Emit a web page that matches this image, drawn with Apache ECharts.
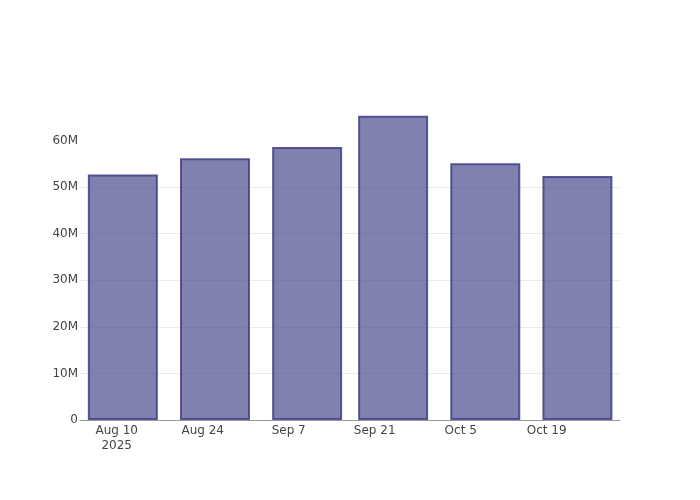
<!DOCTYPE html>
<html>
<head>
<meta charset="utf-8">
<script src="https://cdn.jsdelivr.net/npm/echarts@6/dist/echarts.min.js"></script>
<style>html,body{margin:0;padding:0;background:#fff}#c{width:700px;height:500px}</style>
</head>
<body>
<div id="c"></div>
<script>
const dates = ["2025-08-11", "2025-08-26", "2025-09-10", "2025-09-24", "2025-10-09", "2025-10-24"];
const values = [52.7e6, 56.2e6, 58.6e6, 65.3e6, 55.1e6, 52.4e6];
const xTickDates = ["2025-08-10", "2025-08-24", "2025-09-07", "2025-09-21", "2025-10-05", "2025-10-19"];
const yTicks = [0, 10e6, 20e6, 30e6, 40e6, 50e6, 60e6];
const xRange = ["2025-08-04T00:37:00", "2025-10-30T22:20:00"];
const yMax = 68.7e6;

const MONTHS = ["Jan","Feb","Mar","Apr","May","Jun","Jul","Aug","Sep","Oct","Nov","Dec"];
const ts = s => new Date(s.length === 10 ? s + "T00:00:00" : s).getTime();
const firstTick = ts(xTickDates[0]);

const chart = echarts.init(document.getElementById('c'), null, {renderer: 'canvas'});
chart.setOption({
  animation: false,
  backgroundColor: '#fff',
  textStyle: {fontFamily: 'DejaVu Sans'},
  grid: {left: 80, right: 80, top: 100, bottom: 80, containLabel: false},
  xAxis: {
    type: 'value',
    min: ts(xRange[0]),
    max: ts(xRange[1]),
    axisLine: {show: true, onZero: false, lineStyle: {color: '#999', width: 1}},
    axisTick: {show: false},
    splitLine: {show: false},
    axisLabel: {
      customValues: xTickDates.map(ts),
      color: '#444', fontSize: 12, fontFamily: 'DejaVu Sans',
      margin: 3, lineHeight: 15, hideOverlap: false,
      formatter: function (v) {
        const d = new Date(v);
        let s = MONTHS[d.getMonth()] + ' ' + d.getDate();
        if (Math.abs(v - firstTick) < 3600e3) s += '\n' + d.getFullYear();
        return s;
      }
    }
  },
  yAxis: {
    type: 'value',
    min: 0, max: yMax,
    axisLine: {show: false},
    axisTick: {show: false, customValues: yTicks},
    splitLine: {show: true, showMinLine: false, showMaxLine: false, lineStyle: {color: '#ebebeb', width: 1}},
    axisLabel: {
      customValues: yTicks,
      color: '#444', fontSize: 12, fontFamily: 'DejaVu Sans', margin: 2,
      formatter: v => v === 0 ? '0' : (v / 1e6) + 'M'
    }
  },
  series: [{
    type: 'bar',
    data: dates.map((d, i) => [ts(d), values[i]]),
    barWidth: 70,
    z: 1,
    itemStyle: {color: 'rgba(72,72,140,0.69)', borderColor: 'rgba(62,62,135,0.85)', borderWidth: 2}
  }]
});
</script>
</body>
</html>
